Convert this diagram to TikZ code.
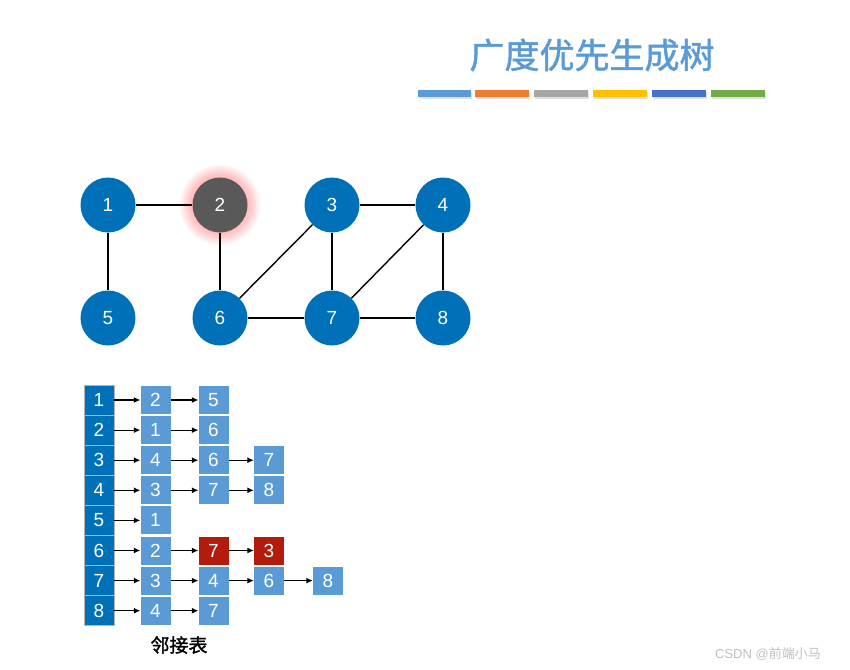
\documentclass[tikz,border=0pt]{standalone}
\usepackage{fontspec}
\setmainfont{Liberation Sans}
\newfontfamily\cjkfont{Noto Sans CJK SC}
\newfontfamily\cjkheavy[FakeBold=1.4]{Noto Sans CJK SC}
\usetikzlibrary{arrows.meta}
\definecolor{vblue}{HTML}{0070B8}
\definecolor{vgray}{HTML}{595959}
\definecolor{lblue}{HTML}{5B9BD5}
\definecolor{dred}{HTML}{B31B0B}
\definecolor{bar1}{HTML}{5B9BD5}
\definecolor{bar2}{HTML}{ED7D31}
\definecolor{bar3}{HTML}{A5A5A5}
\definecolor{bar4}{HTML}{FFC000}
\definecolor{bar5}{HTML}{4472C4}
\definecolor{bar6}{HTML}{70AD47}
\tikzset{
  vertex/.style={circle, fill=vblue, minimum size=55pt, inner sep=0pt, text=white, font=\fontsize{19}{19}\selectfont},
  edge/.style={line width=1.4pt, black},
  headcell/.style={rectangle, fill=vblue, draw=gray!60, line width=0.6pt, minimum width=30pt, minimum height=30pt, inner sep=0pt, text=white, font=\fontsize{19}{19}\selectfont},
  listbox/.style={rectangle, fill=lblue, minimum width=30pt, minimum height=28pt, inner sep=0pt, text=white, font=\fontsize{19}{19}\selectfont},
  hotbox/.style={listbox, fill=dred},
  link/.style={-{Latex[length=6.5pt,width=6pt]}, line width=1.1pt, black},
}
\newcommand{\dn}[1]{\raisebox{-3pt}{#1}}
\begin{document}
\begin{tikzpicture}[x=1pt,y=-1pt]
\useasboundingbox (0,0) rectangle (850,669);
% title
\node[text=lblue, font=\cjkheavy\fontsize{35}{35}\selectfont] (title) at (592,55) {广度优先生成树};
% coloured bars with soft shadow
\foreach \a/\b/\c in {418/471/bar1,475/529/bar2,534/588/bar3,593/647/bar4,652/706/bar5,711/765/bar6}{
  \fill[black,opacity=0.12] (\a+1,92) rectangle (\b+1,99);
  \fill[\c] (\a,90) rectangle (\b,97);
}
% red halo around the current vertex
\coordinate (c2) at (220,205);
\foreach \r in {40,38,...,28} \fill[red!80, opacity=0.06] (c2) circle (\r);
% vertices
\node[vertex] (n1) at (108,205) {1};
\node[vertex, fill=vgray] (n2) at (220,205) {2};
\node[vertex] (n3) at (332,205) {3};
\node[vertex] (n4) at (443,205) {4};
\node[vertex] (n5) at (108,318) {5};
\node[vertex] (n6) at (220,318) {6};
\node[vertex] (n7) at (332,318) {7};
\node[vertex] (n8) at (443,318) {8};
\foreach \u/\v in {n1/n2,n1/n5,n2/n6,n3/n4,n3/n6,n3/n7,n4/n7,n4/n8,n6/n7,n7/n8}
  \draw[edge] (\u) -- (\v);
% adjacency list heads
\foreach \i in {1,...,8}
  \node[headcell] (h\i) at (99,{400+30.1*(\i-1)}) {\dn{\i}};
% adjacency list entries
\foreach \i/\list in {1/{2,5},2/{1,6},3/{4,6,7},4/{3,7,8},5/{1},6/{2,7,3},7/{3,4,6,8},8/{4,7}}{
  \foreach \v [count=\k] in \list {
    \pgfmathsetmacro{\xx}{{155.5,213.5,269,328}[\k-1]}
    \node[listbox] (b\i-\k) at (\xx,{400+30.1*(\i-1)}) {\dn{\v}};
  }
}
\node[hotbox] (b6-2) at (213.5,{400+30.1*5}) {\dn{7}};
\node[hotbox] (b6-3) at (269,{400+30.1*5}) {\dn{3}};
% links
\foreach \i/\n in {1/2,2/2,3/3,4/3,5/1,6/3,7/4,8/2}{
  \draw[link] (h\i.east) -- (b\i-1.west);
  \foreach \k [remember=\k as \p (initially 1)] in {2,...,\n}{
    \ifnum\n>1 \draw[link] (b\i-\p.east) -- (b\i-\k.west); \fi
  }
}
\node[font=\cjkheavy\fontsize{19}{19}\selectfont] (caption) at (179,645) {邻接表};
\node[text=gray!50, font=\fontsize{13}{13}\selectfont] (mark) at (768,654) {CSDN @\cjkfont 前端小马};
\end{tikzpicture}
\end{document}
